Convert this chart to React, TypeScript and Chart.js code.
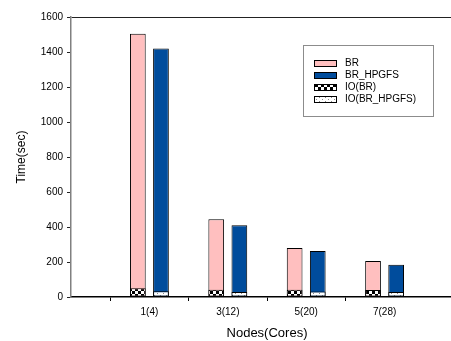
import React, { useEffect, useRef } from "react";
import { Chart, registerables } from "chart.js";

Chart.register(...registerables);

const categories = ["1(4)", "3(12)", "5(20)", "7(28)"];
const brValues = [1505, 445, 280, 206];
const hpgfsValues = [1420, 410, 263, 184];
const ioBrValues = [50, 42, 42, 40];
const ioHpgfsValues = [33, 28, 32, 29];
const yMin = 0;
const yMax = 1600;
const yStep = 200;

const FONT = '"Liberation Sans", Arial, sans-serif';

function makeChecker(): CanvasPattern | string {
  const c = document.createElement("canvas");
  c.width = 6;
  c.height = 6;
  const g = c.getContext("2d");
  if (!g) return "#000";
  g.fillStyle = "#000";
  g.fillRect(0, 0, 6, 6);
  g.fillStyle = "#fff";
  g.fillRect(0, 0, 3, 3);
  g.fillRect(3, 3, 3, 3);
  return g.createPattern(c, "repeat") || "#000";
}

function makeDots(): CanvasPattern | string {
  const c = document.createElement("canvas");
  c.width = 6;
  c.height = 4;
  const g = c.getContext("2d");
  if (!g) return "#fff";
  g.fillStyle = "#fff";
  g.fillRect(0, 0, 6, 4);
  g.fillStyle = "#8a8a8a";
  g.fillRect(1, 1, 1, 1);
  g.fillRect(4, 3, 1, 1);
  return g.createPattern(c, "repeat") || "#fff";
}

const boxLegend = {
  id: "boxLegend",
  afterDraw(chart: any) {
    const ctx = chart.ctx as CanvasRenderingContext2D;
    ctx.save();
    const x0 = 303.5, y0 = 45.5, w = 130, h = 71;
    ctx.fillStyle = "#fff";
    ctx.fillRect(x0, y0, w, h);
    ctx.strokeStyle = "#8c8c8c";
    ctx.lineWidth = 1;
    ctx.strokeRect(x0, y0, w, h);
    chart.data.datasets.forEach((ds: any, i: number) => {
      const cy = 63 + i * 12;
      ctx.fillStyle = ds.backgroundColor;
      ctx.fillRect(314, cy - 3, 23, 7);
      ctx.strokeStyle = "#000";
      ctx.lineWidth = 1;
      ctx.strokeRect(314.5, cy - 2.5, 22, 6);
      ctx.fillStyle = "#000";
      ctx.font = "10px " + FONT;
      ctx.textBaseline = "middle";
      ctx.textAlign = "left";
      ctx.fillText(ds.label, 345, cy + 0.5);
    });
    ctx.restore();
  },
};

export default function App() {
  const ref = useRef<HTMLCanvasElement>(null);

  useEffect(() => {
    if (!ref.current) return;
    document.body.style.margin = "0";
    const labels = ["", ...categories, ""];
    const pad = (arr: number[]) => [null, ...arr, null];
    const checker = makeChecker();
    const dots = makeDots();
    const common = {
      borderColor: "#000",
      borderWidth: 1,
      borderSkipped: false,
      barPercentage: 0.68,
      categoryPercentage: 0.59,
    };
    const chart = new Chart(ref.current, {
      type: "bar",
      data: {
        labels,
        datasets: [
          { ...common, label: "BR", data: pad(brValues), backgroundColor: "#ffbfbf", stack: "a", order: 2 },
          { ...common, label: "BR_HPGFS", data: pad(hpgfsValues), backgroundColor: "#004c9c", stack: "b", order: 2 },
          { ...common, label: "IO(BR)", data: pad(ioBrValues), backgroundColor: checker, stack: "a", order: 1 },
          { ...common, label: "IO(BR_HPGFS)", data: pad(ioHpgfsValues), backgroundColor: dots, stack: "b", order: 1 },
        ] as any,
      },
      options: {
        responsive: false,
        animation: false,
        devicePixelRatio: 1,
        layout: { padding: { left: 0, right: 7, top: 17, bottom: 0 } },
        plugins: {
          legend: { display: false },
          tooltip: { enabled: false },
        },
        scales: {
          x: {
            type: "category",
            stacked: true,
            offset: false,
            afterFit: (s: any) => { s.height = 44; },
            grid: {
              drawOnChartArea: false,
              drawTicks: true,
              tickLength: 4,
              color: "transparent",
              tickColor: (c: any) => (c.index >= 1 && c.index <= categories.length ? "#000" : "transparent"),
            },
            border: { color: "#000", width: 1.5 },
            ticks: {
              autoSkip: false,
              maxRotation: 0,
              padding: 5,
              color: "#000",
              font: { family: FONT, size: 10 },
            },
            title: {
              display: true,
              text: "Nodes(Cores)",
              color: "#000",
              font: { family: FONT, size: 13 },
              padding: { top: 0, bottom: 0 },
            },
          },
          y: {
            type: "linear",
            stacked: false,
            min: yMin,
            max: yMax,
            afterFit: (s: any) => { s.width = 71; },
            grid: {
              drawOnChartArea: true,
              drawTicks: true,
              tickLength: 4,
              color: (c: any) => (c.tick && c.tick.value === yMax ? "#222" : "transparent"),
              tickColor: "#222",
            },
            border: { color: "#808080", width: 1.5 },
            ticks: {
              stepSize: yStep,
              padding: 4,
              color: "#000",
              font: { family: FONT, size: 10 },
              callback: (v: any) => String(v),
            },
            title: {
              display: true,
              text: "Time(sec)",
              color: "#000",
              font: { family: FONT, size: 12 },
              padding: { top: 14, bottom: 0 },
            },
          },
        },
      } as any,
      plugins: [boxLegend],
    });
    return () => chart.destroy();
  }, []);

  return (
    <div style={{ position: "fixed", left: 0, top: 0, width: 451, height: 341, overflow: "hidden", background: "#fff" }}>
      <canvas ref={ref} width={470} height={341} style={{ display: "block", width: 470, height: 341 }} />
    </div>
  );
}
